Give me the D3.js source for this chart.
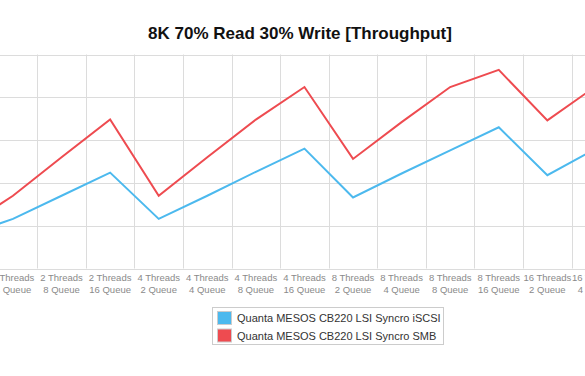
<!DOCTYPE html>
<html>
<head>
<meta charset="utf-8">
<script src="https://cdn.jsdelivr.net/npm/d3@7/dist/d3.min.js"></script>
<style>
  html, body { margin: 0; padding: 0; background: #fff; overflow: hidden; }
  svg { display: block; font-family: "Liberation Sans", Arial, Helvetica, sans-serif; }
</style>
</head>
<body>
<svg id="chart" width="585" height="376"></svg>
<script>
// ---- data ----
const categories = [
  "2 Threads|2 Queue", "2 Threads|4 Queue", "2 Threads|8 Queue", "2 Threads|16 Queue",
  "4 Threads|2 Queue", "4 Threads|4 Queue", "4 Threads|8 Queue", "4 Threads|16 Queue",
  "8 Threads|2 Queue", "8 Threads|4 Queue", "8 Threads|8 Queue", "8 Threads|16 Queue",
  "16 Threads|2 Queue", "16 Threads|4 Queue"
];
const seriesNames = ["Quanta MESOS CB220 LSI Syncro iSCSI", "Quanta MESOS CB220 LSI Syncro SMB"];
const iscsiValues = [38, 58, 85, 112, 58, 85, 113, 140, 83, 111, 138, 165, 109, 140];
const smbValues   = [48, 85, 130, 174, 85, 130, 174, 212, 128, 171, 212, 232, 173, 213];
const yTicks = [0, 50, 100, 150, 200, 250];
const titleText = "8K 70% Read 30% Write [Throughput]";
const colors = ["#4cb9ee", "#ee4b50"];

// ---- layout ----
const W = 585, H = 376;
const plotTop = 54.5, plotBottom = 268.5;
const svg = d3.select("#chart");

const x = d3.scaleBand().domain(categories).range([-59.9, -59.9 + 48.58 * categories.length]).padding(0);
const y = d3.scaleLinear().domain([0, 250]).range([plotBottom, plotTop]);

svg.append("defs").append("clipPath").attr("id", "clip")
  .append("rect").attr("x", 0).attr("y", 0).attr("width", W).attr("height", H);

const plot = svg.append("g").attr("clip-path", "url(#clip)");

// horizontal gridlines
plot.append("g").selectAll("line").data(yTicks).join("line")
  .attr("x1", 0).attr("x2", W)
  .attr("y1", d => Math.round(y(d)) + 0.5).attr("y2", d => Math.round(y(d)) + 0.5)
  .attr("stroke", "#dcdcdc").attr("stroke-width", 1);

// vertical gridlines at band boundaries
const bounds = categories.map(c => x(c)).concat([x(categories[categories.length - 1]) + x.bandwidth()]);
plot.append("g").selectAll("line").data(bounds).join("line")
  .attr("x1", d => Math.round(d) + 0.5).attr("x2", d => Math.round(d) + 0.5)
  .attr("y1", plotTop).attr("y2", plotBottom)
  .attr("stroke", "#dcdcdc").attr("stroke-width", 1);

// x labels
const lbl = plot.append("g").selectAll("text").data(categories).join("text")
  .attr("x", d => x(d) + x.bandwidth() / 2)
  .attr("text-anchor", "middle")
  .attr("font-size", "9.5px")
  .attr("fill", "#8a8a8a");
lbl.append("tspan").attr("x", d => x(d) + x.bandwidth() / 2).attr("y", 281).text(d => d.split("|")[0]);
lbl.append("tspan").attr("x", d => x(d) + x.bandwidth() / 2).attr("y", 293).text(d => d.split("|")[1]);

// lines
const line = d3.line().x((d, i) => x(categories[i]) + x.bandwidth() / 2).y(d => y(d));
[iscsiValues, smbValues].forEach((vals, k) => {
  plot.append("path").datum(vals)
    .attr("d", line)
    .attr("fill", "none")
    .attr("stroke", colors[k])
    .attr("stroke-width", 2)
    .attr("stroke-linejoin", "miter");
});

// title
svg.append("text").attr("x", 300).attr("y", 39)
  .attr("text-anchor", "middle").attr("font-size", "17px").attr("font-weight", "bold")
  .attr("fill", "#111").text(titleText);

// legend
const lg = svg.append("g");
lg.append("rect").attr("x", 212.5).attr("y", 307.5).attr("width", 231).attr("height", 37)
  .attr("fill", "#fff").attr("stroke", "#cccccc");
seriesNames.forEach((name, k) => {
  const yy = 311 + k * 17.5;
  lg.append("rect").attr("x", 217.5).attr("y", yy + 0.5).attr("width", 14).attr("height", 13)
    .attr("fill", colors[k]).attr("stroke", "#cccccc");
  lg.append("text").attr("x", 237).attr("y", yy + 11)
    .attr("font-size", "11px").attr("fill", "#333").text(name);
});
</script>
</body>
</html>
